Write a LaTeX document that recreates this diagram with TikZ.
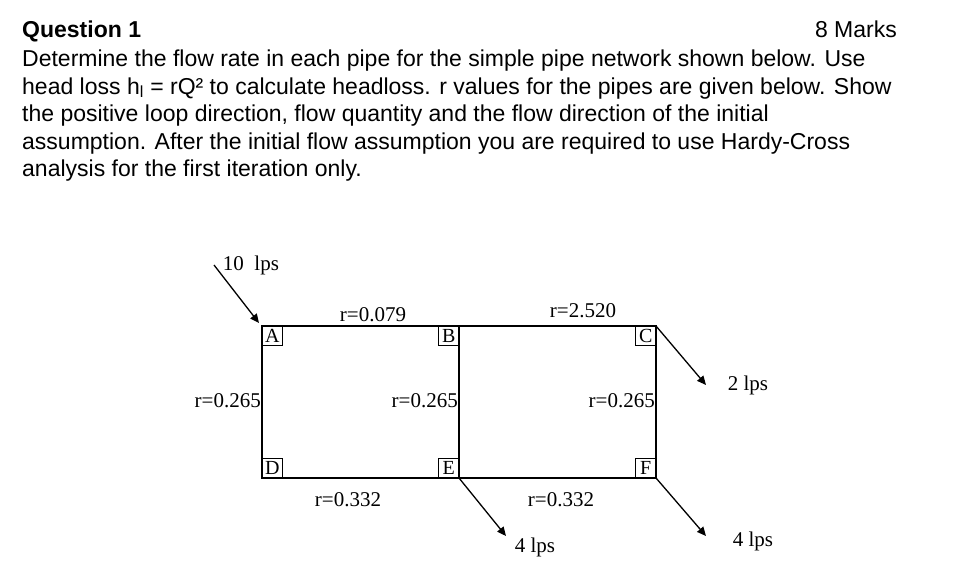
\documentclass[tikz,border=0pt]{standalone}
\usepackage{fontspec}
\setmainfont{Liberation Sans}
\newfontfamily\tms{Liberation Serif}
\usetikzlibrary{arrows.meta}
\begin{document}
\begin{tikzpicture}[x=1pt,y=-1pt,
  pipe/.style={line width=1.5pt},
  flow/.style={line width=1.3pt,-{Triangle[length=9pt,width=8pt]}},
  lab/.style={font=\tms\fontsize{21}{23}\selectfont,inner sep=1pt},
  corner/.style={font=\tms\fontsize{20}{22}\selectfont,draw,line width=0.6pt,inner sep=1.5pt,minimum width=20pt,minimum height=19pt}]
\useasboundingbox (0,0) rectangle (970,580);
\node[anchor=base west,font=\bfseries\fontsize{23}{27}\selectfont,inner sep=0pt] (q) at (22,38) {Question 1};
\node[anchor=base east,font=\fontsize{23}{27}\selectfont,inner sep=0pt] (m) at (897,38) {8 Marks};
\node[anchor=north west,align=left,inner sep=0pt,font=\fontsize{23}{27.6}\selectfont] (t) at (22,47)
{\strut Determine the flow rate in each pipe for the simple pipe network shown below. Use\\
head loss h\textsubscript{l} = rQ² to calculate headloss. r values for the pipes are given below. Show\\
the positive loop direction, flow quantity and the flow direction of the initial\\
assumption. After the initial flow assumption you are required to use Hardy-Cross\\
analysis for the first iteration only.};
\coordinate (A) at (262,326); \coordinate (B) at (459,326); \coordinate (C) at (656,326);
\coordinate (D) at (262,478); \coordinate (E) at (459,478); \coordinate (F) at (656,478);
\draw[pipe] (A) -- (B) -- (C) -- (F) -- (E) -- (D) -- cycle;
\draw[pipe] (B) -- (E);
\node[corner,anchor=north west] (la) at (A) {A};
\node[corner,anchor=north east] (lb) at (B) {B};
\node[corner,anchor=north east] (lc) at (C) {C};
\node[corner,anchor=south west] (ld) at (D) {D};
\node[corner,anchor=south east] (le) at (E) {E};
\node[corner,anchor=south east] (lf) at (F) {F};
\node[lab] (r1) at (373,315) {r=0.079};
\node[lab] (r2) at (583,311) {r=2.520};
\node[lab,anchor=east] (r3) at (262,401) {r=0.265};
\node[lab,anchor=east] (r4) at (459,401) {r=0.265};
\node[lab,anchor=east] (r5) at (656,401) {r=0.265};
\node[lab] (r6) at (348,500) {r=0.332};
\node[lab] (r7) at (561,500) {r=0.332};
\coordinate (s) at (214,265);
\draw[flow] (s) -- (259,323);
\node[lab] (q1) at (251,265) {10\ \ lps};
\coordinate (c2) at (706,385); \draw[flow] (C) -- (c2);
\node[lab] (q2) at (748,385) {2 lps};
\coordinate (e2) at (506,536); \draw[flow] (E) -- (e2);
\node[lab] (q3) at (535,547) {4 lps};
\coordinate (f2) at (706,536); \draw[flow] (F) -- (f2);
\node[lab] (q4) at (753,541) {4 lps};
\end{tikzpicture}
\end{document}
